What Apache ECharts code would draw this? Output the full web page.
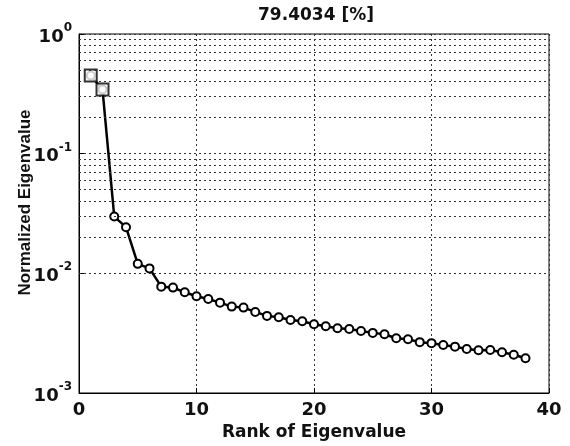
<!DOCTYPE html>
<html>
<head>
<meta charset="utf-8">
<script src="https://cdn.jsdelivr.net/npm/echarts@6/dist/echarts.min.js"></script>
<style>
  html, body { margin: 0; padding: 0; background: #fff; }
  #chart { width: 570px; height: 446px; }
</style>
</head>
<body>
<div id="chart"></div>
<script>
// Rank of each eigenvalue and its normalized size
const ranks = [1, 2, 3, 4, 5, 6, 7, 8, 9, 10, 11, 12, 13, 14, 15, 16, 17, 18, 19,
  20, 21, 22, 23, 24, 25, 26, 27, 28, 29, 30, 31, 32, 33, 34, 35, 36, 37, 38];
const eigenvalues = [0.45, 0.344, 0.0298, 0.0243, 0.0120, 0.0110, 0.00774, 0.0076,
  0.00695, 0.00644, 0.00611, 0.00569, 0.00527, 0.00517, 0.00476, 0.00441, 0.00430,
  0.00408, 0.00398, 0.00376, 0.00361, 0.00348, 0.00343, 0.00330, 0.00318, 0.00310,
  0.00287, 0.00281, 0.00266, 0.00261, 0.00252, 0.00244, 0.00233, 0.00228, 0.00229,
  0.00219, 0.00209, 0.00195];
// Ranks kept (boxed markers)
const selectedRanks = [1, 2];
// Axis ranges
const xTicks = [0, 10, 20, 30, 40];
const yDecades = [-3, -2, -1, 0];
const titleText = '79.4034 [%]';
const xName = 'Rank of Eigenvalue';
const yName = 'Normalized Eigenvalue';

const lineData = ranks.map((r, i) => [r, eigenvalues[i]]);
const selectedData = selectedRanks.map(r => [r, eigenvalues[ranks.indexOf(r)]]);

// Minor log grid lines at 2..9 x 10^k
const minorLines = [];
for (let k = yDecades[0]; k < yDecades[yDecades.length - 1]; k++) {
  for (let m = 2; m <= 9; m++) minorLines.push({ yAxis: m * Math.pow(10, k) });
}

const FONT = 'DejaVu Sans';
const gridDot = { color: '#333', width: 1, type: [2, 3] };

const chart = echarts.init(document.getElementById('chart'), null, { renderer: 'canvas' });
chart.setOption({
  animation: false,
  backgroundColor: '#fff',
  graphic: [{
    type: 'text',
    x: 316, y: 16,
    style: {
      text: titleText,
      align: 'center', verticalAlign: 'middle',
      font: 'bold 17px "DejaVu Sans"',
      fill: '#111'
    }
  }],
  grid: {
    left: 79, right: 21, top: 34, bottom: 53,
    outerBoundsMode: 'none', containLabel: false,
    show: true, borderColor: '#000', borderWidth: 1, backgroundColor: 'transparent'
  },
  xAxis: {
    type: 'value',
    min: xTicks[0], max: xTicks[xTicks.length - 1], interval: 10,
    name: xName, nameLocation: 'middle', nameGap: 30,
    nameTextStyle: { fontFamily: FONT, fontWeight: 'bold', fontSize: 17, color: '#111' },
    axisLine: { show: true, lineStyle: { color: '#000', width: 1 } },
    axisTick: { show: true, inside: true, length: 5, lineStyle: { color: '#000' } },
    axisLabel: { fontFamily: FONT, fontWeight: 'bold', fontSize: 18, color: '#111', margin: 8 },
    splitLine: { show: true, lineStyle: gridDot }
  },
  yAxis: {
    type: 'log', logBase: 10,
    min: Math.pow(10, yDecades[0]), max: Math.pow(10, yDecades[yDecades.length - 1]),
    name: yName, nameLocation: 'middle', nameGap: 45, nameMoveOverlap: false,
    nameTextStyle: {
      fontFamily: 'Liberation Sans', fontWeight: 'bold', fontSize: 17, color: '#111',
      padding: [0, 0, 0, 22]
    },
    axisLine: { show: true, lineStyle: { color: '#000', width: 1 } },
    axisTick: { show: true, inside: true, length: 5, lineStyle: { color: '#000' } },
    axisLabel: {
      margin: 7,
      formatter: v => '{b|10}{s|' + Math.round(Math.log10(v)) + '}',
      rich: {
        b: { fontFamily: FONT, fontWeight: 'bold', fontSize: 18, color: '#111', lineHeight: 24, verticalAlign: 'bottom' },
        s: { fontFamily: FONT, fontWeight: 'bold', fontSize: 12, color: '#111', lineHeight: 24, verticalAlign: 'top' }
      }
    },
    splitLine: { show: true, lineStyle: gridDot },
    minorTick: { show: false },
    minorSplitLine: { show: false }
  },
  series: [
    {
      type: 'line',
      data: lineData,
      symbol: 'emptyCircle',
      symbolSize: 8,
      lineStyle: { color: '#000', width: 2.5 },
      itemStyle: { color: '#000', borderColor: '#000', borderWidth: 1.8 },
      markLine: {
        silent: true,
        symbol: ['none', 'none'],
        label: { show: false },
        lineStyle: gridDot,
        data: minorLines
      },
      z: 3
    },
    {
      type: 'scatter',
      data: selectedData,
      symbol: 'emptyRect',
      symbolSize: 12,
      itemStyle: { color: '#000', borderColor: '#000', borderWidth: 2 },
      z: 4
    }
  ]
});
</script>
</body>
</html>
